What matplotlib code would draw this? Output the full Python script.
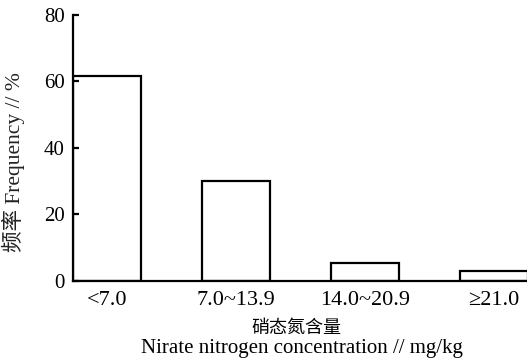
import matplotlib
matplotlib.use("Agg")
import matplotlib.pyplot as plt

categories = ["<7.0", "7.0~13.9", "14.0~20.9", "≥21.0"]
frequency = [61.7, 30.1, 5.4, 3.0]
y_ticks = [0, 20, 40, 60, 80]

fonts = ["Liberation Serif", "Noto Sans CJK SC", "DejaVu Sans"]
plt.rcParams["font.family"] = fonts

fig = plt.figure(figsize=(5.27, 3.63), dpi=100)
ax = fig.add_axes([0.1385, 0.226, 0.8615, 0.733])

x = list(range(len(categories)))
ax.bar(x, frequency, width=0.527, color="white", edgecolor="black", linewidth=1.6)

ax.set_xlim(-0.2636, 3.256)
ax.set_ylim(0, 80)
ax.set_yticks(y_ticks)
ax.set_xticks(x)
ax.set_xticklabels(categories)

for side in ("top", "right"):
    ax.spines[side].set_visible(False)
for side in ("left", "bottom"):
    ax.spines[side].set_linewidth(1.6)

ax.tick_params(axis="y", direction="in", length=4, width=1.6, labelsize=15, pad=6)
ax.tick_params(axis="x", length=0, labelsize=16, pad=7)

ax.set_ylabel("频率 Frequency // %", fontsize=15.5, color="#222222")
ax.yaxis.set_label_coords(-0.105, 0.447)
fig.text(0.563, 0.096, "硝态氮含量", ha="center", va="center", fontsize=13,
         family=["Noto Sans CJK SC", "DejaVu Sans"])
fig.text(0.572, 0.041, "Nirate nitrogen concentration // mg/kg", ha="center",
         va="center", fontsize=15)

fig.savefig("out.png", dpi=100)
